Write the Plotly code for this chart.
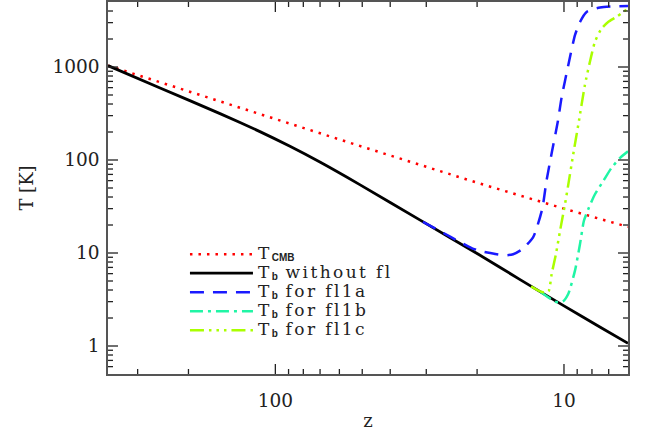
import math
import plotly.graph_objects as go

# ---- data ----
z_cmb = [380, 200, 100, 50, 20, 10, 6]
T_cmb = [1035, 545, 275, 139, 57, 30, 19.1]

z_nofl = [380, 250.8, 155.5, 113.1, 89.0, 70.1, 51.0, 31.6, 19.6, 14.24, 10, 7.51, 6]
T_nofl = [1034, 595.7, 315.5, 202.0, 140.4, 95.1, 54.4, 22.7, 9.51, 5.21, 2.70, 1.60, 1.07]

z_fl1a = [30.8, 24.8, 20.9, 19.0, 17.1, 16, 15, 14, 12.8, 11.9, 11.5, 11.0, 10.5, 10.2, 9.66, 9.16, 8.8, 8.35, 7.5, 6]
T_fl1a = [21.6, 15.0, 11.3, 10.3, 9.7, 9.45, 9.7, 10.9, 14.7, 29.6, 59.4, 124, 261, 463, 1052, 2200, 3050, 3910, 4370, 4530]

z_fl1b = [12.1, 10.74, 10.4, 10.08, 9.66, 9.16, 8.8, 8.53, 8.24, 7.81, 7.31, 6.84, 6.4, 6.0]
T_fl1b = [3.86, 3.0, 2.95, 3.02, 3.65, 6.47, 12.5, 22.2, 29.6, 42.8, 59.4, 82.5, 105, 124]

z_fl1c = [13, 12.1, 11.6, 11.3, 11.03, 10.66, 10.32, 9.92, 9.66, 9.29, 8.92, 8.46, 8.13, 7.81, 7.41, 7.03, 6.58, 6.0]
T_fl1c = [4.37, 3.86, 3.75, 3.9, 5.97, 9.8, 17.3, 33.5, 54.7, 115, 240, 643, 1140, 1870, 2590, 3050, 3460, 4250]

x_ticks = [100, 10]
x_minor = [300, 200, 90, 80, 70, 60, 50, 40, 30, 20, 9, 8, 7]
y_ticks = [1, 10, 100, 1000]
y_minor = [0.6, 0.7, 0.8, 0.9, 2, 3, 4, 5, 6, 7, 8, 9, 20, 30, 40, 50, 60, 70, 80, 90,
           200, 300, 400, 500, 600, 700, 800, 900, 2000, 3000, 4000]

X_RANGE = [2.5798, 0.7782]
Y_RANGE = [-0.30103, 3.69897]

W, H = 649, 436
ML, MR, MT, MB = 108, 21, 0, 62
PW, PH = W - ML - MR, H - MT - MB

FONT = "DejaVu Serif"
SUB = '<sub><span style="font-family:Liberation Sans;font-weight:bold;font-size:10px;letter-spacing:0px">%s</span></sub>'
SPAN = '<span style="font-size:17px;letter-spacing:2.4px">%s</span>'

names = [
    SPAN % "T" + SUB % "CMB",
    SPAN % "T" + SUB % "b" + SPAN % " without fl",
    SPAN % "T" + SUB % "b" + SPAN % " for fl1a",
    SPAN % "T" + SUB % "b" + SPAN % " for fl1b",
    SPAN % "T" + SUB % "b" + SPAN % " for fl1c",
]

fig = go.Figure()
fig.add_trace(go.Scatter(x=z_cmb, y=T_cmb, mode="lines", name=names[0],
                         line=dict(color="#ff0000", width=2.5, dash="2.5px,6px")))
fig.add_trace(go.Scatter(x=z_nofl, y=T_nofl, mode="lines", name=names[1],
                         line=dict(color="#000000", width=2.8, shape="spline", smoothing=0.6)))
fig.add_trace(go.Scatter(x=z_fl1a, y=T_fl1a, mode="lines", name=names[2],
                         line=dict(color="#1a1aff", width=2.5, dash="14px,9px", shape="spline", smoothing=0.6)))
fig.add_trace(go.Scatter(x=z_fl1b, y=T_fl1b, mode="lines", name=names[3],
                         line=dict(color="#20f5a5", width=2.5, dash="13px,5px,3px,5px", shape="spline", smoothing=0.6)))
fig.add_trace(go.Scatter(x=z_fl1c, y=T_fl1c, mode="lines", name=names[4],
                         line=dict(color="#aaff00", width=2.5, dash="14px,5px,2.5px,5px,2.5px,5px,2.5px,5px",
                                   shape="spline", smoothing=0.6)))

# inside tick marks on all four sides (axis decoration, positioned in the axes' log frame)
def fx(v):
    return (math.log10(v) - X_RANGE[0]) / (X_RANGE[1] - X_RANGE[0])

def fy(v):
    return (math.log10(v) - Y_RANGE[0]) / (Y_RANGE[1] - Y_RANGE[0])

TICK_LINE = dict(color="#222", width=1.3)
shapes = []
for vals, L in ((x_ticks, 10), (x_minor, 5)):
    for v in vals:
        p = fx(v)
        shapes.append(dict(type="line", xref="paper", yref="paper", x0=p, x1=p, y0=0, y1=L / PH, line=TICK_LINE))
        shapes.append(dict(type="line", xref="paper", yref="paper", x0=p, x1=p, y0=1 - L / PH, y1=1, line=TICK_LINE))
for vals, L in ((y_ticks, 10), (y_minor, 5)):
    for v in vals:
        p = fy(v)
        shapes.append(dict(type="line", xref="paper", yref="paper", y0=p, y1=p, x0=0, x1=L / PW, line=TICK_LINE))
        shapes.append(dict(type="line", xref="paper", yref="paper", y0=p, y1=p, x0=1 - L / PW, x1=1, line=TICK_LINE))

def axis(ticks):
    return dict(
        type="log", showgrid=False, zeroline=False, showline=True, linecolor="#555", linewidth=1.5,
        mirror=True, ticks="", tickvals=ticks, ticktext=[str(v) for v in ticks],
        tickfont=dict(family=FONT, size=18.5, color="#222"),
    )

fig.update_layout(
    width=W, height=H,
    margin=dict(l=ML, r=MR, t=MT, b=MB),
    paper_bgcolor="white", plot_bgcolor="white",
    font=dict(family=FONT, size=17, color="#222"),
    xaxis=dict(axis(x_ticks), range=X_RANGE, ticklabelstandoff=9,
               title=dict(text="z", font=dict(family=FONT, size=18, color="#222"), standoff=4)),
    yaxis=dict(axis(y_ticks), range=Y_RANGE, ticklabelstandoff=3,
               title=dict(text="T [K]", font=dict(family=FONT, size=18, color="#222"), standoff=14)),
    shapes=shapes,
    showlegend=True,
    legend=dict(x=0.148, y=0.361, xanchor="left", yanchor="top", bgcolor="rgba(0,0,0,0)",
                font=dict(family=FONT, size=12, color="#222"), tracegroupgap=0, itemwidth=63),
)

fig.write_html("out.html")
